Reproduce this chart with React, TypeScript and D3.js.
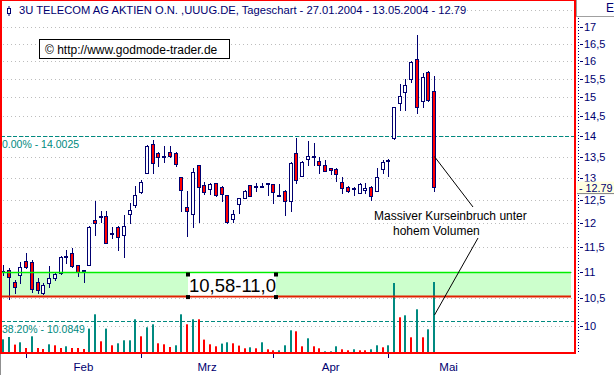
import React from "react";
import * as d3 from "d3";

const W = 614;
const H = 375;

const title = "3U TELECOM AG AKTIEN O.N. ,UUUG.DE, Tageschart - 27.01.2004 - 13.05.2004 - 12.79";
const copyright = "\u00A9 http://www.godmode-trader.de";

const open = [
  11.0, 11.04, 10.8, 10.94, 11.22, 11.2, 10.8, 10.59, 10.78, 10.88,
  10.98, 11.29, 11.37, 11.13, 11.02, 11.14, 12.07, 12.12, 12.16, 11.78,
  11.92, 11.74, 12.19, 12.39, 12.67, 13.11, 13.8, 13.58, 13.49, 13.61,
  13.58, 13.03, 12.34, 12.19, 13.3, 12.84, 12.74, 12.88, 12.79, 12.61,
  12.09, 12.41, 12.54, 12.83, 12.79, 12.82, 12.87, 12.86, 12.61, 12.7,
  12.48, 13.58, 13.05, 13.45, 13.51, 13.4, 13.3, 13.24, 13.2, 12.9,
  12.8, 12.77, 12.65, 12.73, 12.79, 12.71, 13.2, 13.41, 13.95, 14.86,
  15.15, 15.49, 16.05, 14.91, 15.7, 15.17,
];
const high = [
  11.14, 11.08, 10.85, 11.2, 11.38, 11.24, 10.89, 10.79, 11.12, 11.0,
  11.31, 11.44, 11.47, 11.14, 11.04, 11.94, 12.48, 12.26, 12.25, 11.92,
  11.94, 12.17, 12.43, 12.82, 12.95, 13.78, 13.91, 13.6, 13.76, 13.76,
  13.6, 13.03, 12.7, 13.23, 13.3, 12.91, 12.89, 12.89, 12.82, 12.61,
  12.27, 12.55, 12.73, 12.83, 12.89, 12.89, 12.89, 12.86, 12.86, 12.73,
  13.38, 13.95, 13.4, 13.89, 13.84, 13.5, 13.41, 13.24, 13.22, 13.01,
  12.82, 12.8, 12.89, 12.88, 12.82, 13.24, 13.42, 13.44, 14.75, 15.36,
  15.49, 16.01, 16.74, 15.67, 15.72, 15.58,
];
const low = [
  10.94, 10.49, 10.6, 10.79, 11.08, 10.62, 10.6, 10.58, 10.71, 10.85,
  10.96, 11.17, 11.09, 10.92, 10.8, 11.14, 11.75, 12.03, 11.58, 11.68,
  11.43, 11.29, 11.99, 12.35, 12.65, 13.11, 13.12, 13.28, 13.38, 13.48,
  13.28, 12.25, 11.72, 11.91, 12.03, 12.64, 12.64, 12.59, 12.48, 12.01,
  12.02, 12.22, 12.54, 12.59, 12.7, 12.8, 12.61, 12.43, 12.59, 12.17,
  12.25, 12.88, 13.05, 13.29, 13.29, 13.12, 13.15, 13.09, 12.94, 12.65,
  12.69, 12.61, 12.65, 12.65, 12.5, 12.71, 13.11, 13.05, 13.94, 14.67,
  14.67, 15.42, 14.6, 14.75, 14.91, 12.71,
];
const close = [
  11.02, 10.9, 10.72, 11.1, 11.09, 10.68, 10.66, 10.75, 10.89, 10.97,
  11.29, 11.32, 11.11, 11.01, 11.03, 11.92, 11.99, 12.14, 11.59, 11.79,
  11.7, 11.94, 12.28, 12.61, 12.9, 13.76, 13.34, 13.5, 13.51, 13.52,
  13.32, 12.73, 12.25, 13.13, 12.8, 12.69, 12.86, 12.61, 12.64, 12.02,
  12.2, 12.54, 12.7, 12.59, 12.81, 12.81, 12.88, 12.67, 12.6, 12.48,
  13.36, 12.95, 13.38, 13.52, 13.49, 13.29, 13.17, 13.18, 13.08, 12.76,
  12.7, 12.78, 12.86, 12.78, 12.59, 13.01, 13.37, 13.43, 14.74, 15.04,
  15.32, 15.96, 14.75, 15.56, 14.93, 12.79,
];
const volume = [
  127, 150, 74, 97, 40, 157, 40, 30, 77, 67,
  40, 57, 40, 40, 30, 234, 377, 107, 234, 67,
  87, 117, 117, 327, 157, 247, 277, 87, 77, 50,
  67, 377, 277, 327, 327, 124, 77, 57, 84, 97,
  87, 64, 37, 47, 37, 97, 27, 17, 17, 67,
  217, 207, 57, 137, 57, 37, 7, 7, 57, 27,
  17, 27, 17, 17, 27, 67, 47, 67, 690, 347,
  367, 147, 427, 147, 227, 700,
];
// t = teal bar, r = red bar
const volumeTrend = (
  "ttrtrtrrtr" + "rtrrrttrtr" + "ttttrttrrr" + "ttrtrrrrtt" +
  "rrrtrtrrtt" + "trrtrrtttr" + "rtrrttrttr" + "trtrtt"
).split("");

const priceTicks = [10, 10.5, 11, 11.5, 12, 12.5, 13, 13.5, 14, 14.5, 15, 15.5, 16, 16.5, 17];
const priceTickLabels = ["10", "10,5", "11", "11,5", "12", "12,5", "13", "13,5", "14", "14,5", "15", "15,5", "16", "16,5", "17"];
const extraGrid = [17.5];

const months = ["Feb", "Mrz", "Apr", "Mai"];
const monthStart = [4, 24, 47, 67];
const monthDays = [20, 23, 20, 21];

const fibLevels = [14.0025, 10.0849];
const fibLabels = ["0.00% - 14.0025", "38.20% - 10.0849"];

const zoneHigh = 11.0;
const zoneLow = 10.54;
const zoneLabel = "10,58-11,0";
const lastPrice = 12.79;
const lastPriceLabel = "- 12.79";
const noteLines = ["Massiver Kurseinbruch unter", "hohem Volumen"];

const NAVY = "#000070";
const TEAL = "#008A80";
const FONT = "'Liberation Sans', Arial, sans-serif";

export default function App() {
  const x = d3.scaleLinear().domain([0, 100]).range([3, 578]);
  const y = d3.scaleLog().domain([10, 17]).range([325.7, 26.8]);
  const yv = d3.scaleLinear().domain([0, 700]).range([352, 282]);

  const plotL = 1;
  const plotR = 575;
  const cxOf = (i: number) => Math.round(x(i));

  const lastI = close.length - 1;
  const lastX = cxOf(lastI) + 0.5;

  return (
    <svg
      width={W}
      height={H}
      style={{ position: "absolute", left: 0, top: 0, background: "#fff" }}
      fontFamily={FONT}
    >
      <rect x={0} y={0} width={W} height={H} fill="#fff" />

      {/* gridlines */}
      {[...priceTicks, ...extraGrid].map((v, k) => (
        <line
          key={"g" + k}
          x1={plotL + 2}
          x2={plotR - 1}
          y1={Math.round(y(v)) + 0.5}
          y2={Math.round(y(v)) + 0.5}
          stroke="#BDBDBD"
          strokeDasharray="1,3"
        />
      ))}

      {/* support zone */}
      <rect
        x={plotL}
        y={y(zoneHigh)}
        width={571 - plotL}
        height={y(zoneLow) - y(zoneHigh)}
        fill="#CCFFCC"
      />

      {/* fib lines */}
      {fibLevels.map((v, k) => (
        <line
          key={"f" + k}
          x1={plotL}
          x2={plotR}
          y1={Math.round(y(v)) + 0.5}
          y2={Math.round(y(v)) + 0.5}
          stroke={TEAL}
          strokeDasharray="4,2"
        />
      ))}

      {/* volume */}
      {volume.map((v, i) => (
        <rect
          key={"v" + i}
          x={cxOf(i) - 1}
          y={yv(v)}
          width={2}
          height={yv(0) - yv(v)}
          fill={volumeTrend[i] === "t" ? TEAL : "#FF0000"}
        />
      ))}

      {/* candles */}
      {open.map((o, i) => {
        const c = close[i];
        const cx = cxOf(i);
        const top = Math.round(y(Math.max(o, c)));
        const bot = Math.round(y(Math.min(o, c)));
        const down = c < o;
        return (
          <g key={"c" + i}>
            <line
              x1={cx + 0.5}
              x2={cx + 0.5}
              y1={Math.round(y(high[i]))}
              y2={Math.round(y(low[i])) + 1}
              stroke={NAVY}
            />
            <rect
              x={cx - 1.5}
              y={top + 0.5}
              width={3}
              height={Math.max(1, bot - top)}
              fill={down ? "#FF0000" : "#FFFFFF"}
              stroke={NAVY}
            />
          </g>
        );
      })}

      {/* zone lines */}
      <line x1={plotL} x2={571} y1={y(zoneHigh) + 0.5} y2={y(zoneHigh) + 0.5} stroke="#00EE00" strokeWidth={1.5} />
      <line x1={plotL} x2={571} y1={y(zoneLow) + 0.5} y2={y(zoneLow) + 0.5} stroke="#E02000" strokeWidth={2} />

      {/* zone label */}
      <rect x={188} y={y(zoneHigh) + 1.5} width={88} height={y(zoneLow) - y(zoneHigh) - 2} fill="#fff" />
      <text x={232.5} y={291.5} fontSize={18.5} textAnchor="middle" fill="#000">
        {zoneLabel}
      </text>
      {[
        [188, y(zoneHigh) + 2.5],
        [276, y(zoneHigh) + 2.5],
        [188, y(zoneLow) + 1],
        [276, y(zoneLow) + 1],
      ].map(([hx, hy], k) => (
        <rect key={"h" + k} x={hx - 2} y={hy - 2} width={4} height={4} fill="#000" />
      ))}

      {/* fib labels */}
      {fibLevels.map((v, k) => (
        <text key={"fl" + k} x={2} y={y(v) + 12} fontSize={10.5} fill={TEAL}>
          {fibLabels[k]}
        </text>
      ))}

      {/* annotation */}
      <text x={374} y={220} fontSize={12} fill="#000">{noteLines[0]}</text>
      <text x={393} y={235} fontSize={12} fill="#000">{noteLines[1]}</text>
      <line x1={lastX} y1={y(13.5)} x2={473} y2={207} stroke="#000" />
      <line x1={lastX} y1={yv(volume[lastI]) + 33} x2={478} y2={238} stroke="#000" />

      {/* title */}
      <rect x={2} y={2} width={448} height={15} fill="#fff" />
      <line x1={9} x2={9} y1={6} y2={16} stroke={NAVY} />
      <rect x={7.5} y={8.5} width={3} height={5} fill="#fff" stroke={NAVY} />
      <text x={19} y={14} fontSize={11.2} fill={NAVY}>{title}</text>

      {/* copyright box */}
      <rect x={39.5} y={39.5} width={190} height={19} fill="#fff" stroke="#000" />
      <text x={45} y={54} fontSize={12} fill="#000">{copyright}</text>

      {/* frame */}
      <line x1={1} x2={1} y1={0} y2={354} stroke="#FF0000" strokeWidth={2} />
      <line x1={0} x2={576} y1={0.5} y2={0.5} stroke="#FF0000" strokeWidth={1} />
      <line x1={575} x2={575} y1={0} y2={354} stroke="#FF0000" strokeWidth={2} />
      <line x1={0} x2={576} y1={353} y2={353} stroke="#FF0000" strokeWidth={2} />
      <line x1={0.5} x2={0.5} y1={354} y2={H} stroke="#909090" />

      {/* right axis */}
      <rect x={576.5} y={-1} width={45} height={17.5} fill="#fff" stroke="#A0A0A0" />
      <text x={606} y={12} fontSize={12} fill={NAVY}>EUR</text>
      <line x1={578.5} x2={578.5} y1={18} y2={352} stroke={NAVY} strokeDasharray="1,2" />
      {priceTicks.map((v, k) => (
        <g key={"t" + k}>
          <line x1={580} x2={583} y1={Math.round(y(v)) + 0.5} y2={Math.round(y(v)) + 0.5} stroke={NAVY} />
          <text x={584} y={y(v) + 4} fontSize={11} fill={NAVY}>
            {priceTickLabels[k]}
          </text>
        </g>
      ))}
      <rect x={577} y={y(lastPrice) - 5.5} width={37} height={11.5} fill="#FFFFE0" />
      <line x1={577} x2={614} y1={y(lastPrice) + 6.5} y2={y(lastPrice) + 6.5} stroke="#808080" />
      <text x={579} y={y(lastPrice) + 4.5} fontSize={10.8} fill={NAVY}>
        {lastPriceLabel}
      </text>

      {/* x axis */}
      {monthStart.map((s, k) => (
        <g key={"m" + k}>
          <line x1={cxOf(s) + 0.5} x2={cxOf(s) + 0.5} y1={354} y2={358} stroke={NAVY} />
          <text x={x(s + monthDays[k] / 2)} y={371} fontSize={11.5} textAnchor="middle" fill={NAVY}>
            {months[k]}
          </text>
        </g>
      ))}
    </svg>
  );
}
